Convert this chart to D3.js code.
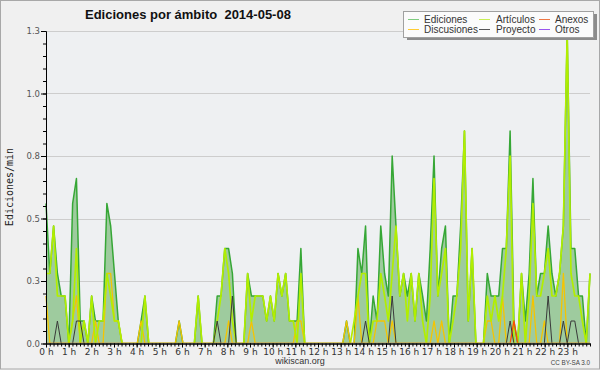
<!DOCTYPE html>
<html>
<head>
<meta charset="utf-8">
<script src="https://cdn.jsdelivr.net/npm/d3@7"></script>
<style>
  body { margin: 0; background: #f0f0f0; }
  svg { display: block; }
</style>
</head>
<body>
<div id="wrapper"></div>
<script>
// ediciones por minuto, una cifra cada 10 minutos (6 por hora)
const ediciones = [
  .56, .28, .47, .28, .19, .19,   0, .56, .66, .09, .09,   0,
  .19, .09, .09, .09, .56, .47, .28, .09,   0,   0,   0,   0,
    0, .09, .19,   0,   0,   0,   0,   0,   0,   0,   0, .09,
    0,   0,   0,   0, .19,   0,   0,   0,   0, .19, .19, .38,
  .38, .28,   0,   0,   0, .28, .19, .19, .19, .19, .09, .19,
  .09, .28, .19, .28, .09, .09, .09, .38,   0,   0,   0,   0,
    0,   0,   0,   0,   0,   0,   0, .09,   0,   0, .38, .28,
  .47,   0, .19, .09, .47, .28, .19, .75, .47, .19, .28, .19,
  .28, .09, .28, .19, .09, .38, .75, .19, .38, .47,   0, .19,
  .19, .47, .85, .09, .38,   0,   0,   0, .28, .19, .19, .19,
  .38, .38, .85, .09,   0, .28, .09, .28, .66, .19, .28, .28,
  .47, .28, .19, .28, .47, 1.24, .38, .38, .19, .19,  0, .28
]
const articulos = [
  .28, .28, .47, .19, .19, .19,   0, .09, .38,   0, .09,   0,
  .19,   0, .09, .09, .28, .19, .09, .09,   0,   0,   0,   0,
    0,   0, .19,   0,   0,   0,   0,   0,   0,   0,   0,   0,
    0,   0,   0,   0, .19,   0,   0,   0,   0, .09, .19, .38,
  .28, .09,   0,   0,   0, .28, .09, .19, .19, .19, .09, .19,
  .09, .28, .19, .28, .09, .09,   0, .28,   0,   0,   0,   0,
    0,   0,   0,   0,   0,   0,   0,   0,   0, .09, .19, .28,
  .28,   0, .09, .09, .28, .19, .09, .28, .47, .19, .28, .09,
  .28, .09, .28, .09,   0, .19, .66, .19, .28, .38,   0, .09,
  .19, .38, .85, .09, .38,   0,   0,   0, .19, .09, .19, .09,
  .19, .38, .75,   0,   0, .28,   0, .19, .56, .19, .19, .28,
  .38, .19, .19, .28, .47, 1.24, .28, .19, .19, .09,  0, .28
]
const discusiones = [
  .19,   0,   0,   0,   0,   0,   0, .09, .19,   0,   0,   0,
    0, .09,   0,   0, .28, .28, .09, .09,   0,   0,   0,   0,
    0, .09,   0,   0,   0,   0,   0,   0,   0,   0,   0, .09,
    0,   0,   0,   0,   0,   0,   0,   0,   0,   0,   0,   0,
  .09,   0,   0,   0,   0,   0, .09,   0,   0,   0,   0,   0,
    0,   0,   0,   0,   0,   0, .09, .09,   0,   0,   0,   0,
    0,   0,   0,   0,   0,   0,   0, .09,   0,   0, .19,   0,
    0,   0,   0, .09, .09, .09,   0, .09,   0,   0,   0,   0,
    0,   0,   0,   0,   0,   0, .09,   0, .09,   0,   0,   0,
    0,   0,   0,   0,   0,   0,   0,   0, .09, .09,   0,   0,
  .19,   0,   0,   0,   0,   0,   0,   0, .19,   0,   0, .09,
    0,   0,   0,   0, .28,   0,   0,   0,   0,   0,   0,   0
]
const proyecto = [
    0,   0,   0, .09,   0,   0,   0,   0, .09, .09,   0,   0,
    0,   0,   0,   0,   0,   0,   0,   0,   0,   0,   0,   0,
    0,   0,   0,   0,   0,   0,   0,   0,   0,   0,   0,   0,
    0,   0,   0,   0,   0,   0,   0,   0,   0, .09,   0,   0,
    0, .19,   0,   0,   0,   0,   0,   0,   0,   0,   0,   0,
    0,   0,   0,   0,   0,   0,   0,   0,   0,   0,   0,   0,
    0,   0,   0,   0,   0,   0,   0,   0,   0,   0,   0,   0,
  .09,   0,   0,   0,   0,   0,   0, .19,   0,   0,   0,   0,
    0,   0,   0,   0,   0,   0,   0,   0,   0,   0,   0,   0,
    0,   0,   0,   0,   0,   0,   0,   0,   0,   0,   0,   0,
    0,   0, .09,   0,   0,   0,   0,   0,   0,   0,   0,   0,
  .19,   0,   0,   0, .09,   0, .09, .09,   0,   0,   0,   0
]
const anexos = [
    0,   0,   0,   0,   0,   0,   0,   0,   0,   0,   0,   0,
    0,   0,   0,   0,   0,   0,   0,   0,   0,   0,   0,   0,
    0,   0,   0,   0,   0,   0,   0,   0,   0,   0,   0,   0,
    0,   0,   0,   0,   0,   0,   0,   0,   0,   0,   0,   0,
    0,   0,   0,   0,   0,   0,   0,   0,   0,   0,   0,   0,
    0,   0,   0,   0,   0,   0,   0,   0,   0,   0,   0,   0,
    0,   0,   0,   0,   0,   0,   0,   0,   0,   0,   0,   0,
    0,   0,   0,   0,   0,   0,   0,   0,   0,   0,   0,   0,
    0,   0,   0,   0,   0,   0,   0,   0,   0,   0,   0,   0,
    0,   0,   0,   0,   0,   0,   0,   0,   0,   0,   0,   0,
    0,   0,   0, .09,   0,   0,   0,   0,   0,   0,   0,   0,
    0,   0,   0,   0,   0,   0,   0,   0,   0,   0,   0,   0
]
const otros = [
    0,   0,   0,   0,   0,   0,   0,   0,   0,   0,   0,   0,
    0,   0,   0,   0,   0,   0,   0,   0,   0,   0,   0,   0,
    0,   0,   0,   0,   0,   0,   0,   0,   0,   0,   0,   0,
    0,   0,   0,   0,   0,   0,   0,   0,   0,   0,   0,   0,
    0,   0,   0,   0,   0,   0,   0,   0,   0,   0,   0,   0,
    0,   0,   0,   0,   0,   0,   0,   0,   0,   0,   0,   0,
    0,   0,   0,   0,   0,   0,   0,   0,   0,   0,   0,   0,
    0,   0,   0,   0,   0,   0,   0,   0,   0,   0,   0,   0,
    0,   0,   0,   0,   0,   0,   0,   0,   0,   0,   0,   0,
    0,   0,   0,   0,   0,   0,   0,   0,   0,   0,   0,   0,
    0,   0,   0,   0,   0,   0,   0,   0,   0,   0,   0,   0,
    0,   0,   0,   0,   0,   0,   0,   0,   0,   0,   0,   0
]

const chartTitle = 'Ediciones por ámbito  2014-05-08'
const hourTicks = [0, 1, 2, 3, 4, 5, 6, 7, 8, 9, 10, 11, 12, 13, 14, 15, 16, 17, 18, 19, 20, 21, 22, 23]
const hourLabels = ['0 h', '1 h', '2 h', '3 h', '4 h', '5 h', '6 h', '7 h', '8 h', '9 h', '10 h', '11 h',
  '12 h', '13 h', '14 h', '15 h', '16 h', '17 h', '18 h', '19 h', '20 h', '21 h', '22 h', '23 h']
const yTicks = [0, 0.25, 0.5, 0.75, 1, 1.25]
const yTickLabels = ['0.0', '0.3', '0.5', '0.8', '1.0', '1.3']

const legendLabels = ['Ediciones', 'Artículos', 'Anexos', 'Discusiones', 'Proyecto', 'Otros']
const legendColors = ['#7fcc7f', '#c8ee55', '#ee7744', '#ffcc33', '#555555', '#9955ee']

function drawChart() {
  //dimensions
  let dimensions = {
    width: 600,
    height: 370,
    margin: { top: 31, right: 10, bottom: 26.5, left: 46 }
  }
  dimensions.boundedWidth = dimensions.width - dimensions.margin.left - dimensions.margin.right
  dimensions.boundedHeight = dimensions.height - dimensions.margin.top - dimensions.margin.bottom

  const wrapper = d3.select('#wrapper')
    .append('svg')
      .attr('width', dimensions.width)
      .attr('height', dimensions.height)

  wrapper.append('rect')
    .attr('x', 0.5).attr('y', 0.5)
    .attr('width', dimensions.width - 1).attr('height', dimensions.height - 1.5)
    .attr('fill', '#f0f0f0')
    .attr('stroke', '#a8a8a8')

  const bounds = wrapper.append('g')
    .attr('transform', `translate(${dimensions.margin.left}, ${dimensions.margin.top})`)

  // lines sitting on zero hide under the axis
  wrapper.append('defs')
    .append('clipPath')
      .attr('id', 'plot-clip')
    .append('rect')
      .attr('x', -2).attr('y', -40)
      .attr('width', dimensions.boundedWidth + 4)
      .attr('height', dimensions.boundedHeight + 40 - 0.7)

  //scales
  const xScale = d3.scaleLinear()
    .domain([0, ediciones.length - 1])
    .range([0, dimensions.boundedWidth])
  const timeScale = d3.scaleLinear()
    .domain([0, 24])
    .range([0, dimensions.boundedWidth])
  const yScale = d3.scaleLinear()
    .domain([0, 1.25])
    .range([dimensions.boundedHeight, 0])

  bounds.append('rect')
    .attr('width', dimensions.boundedWidth)
    .attr('height', dimensions.boundedHeight)
    .attr('fill', '#eef0f2')

  //grid
  bounds.selectAll('.grid')
    .data(yTicks.slice(1))
    .join('line')
      .attr('class', 'grid')
      .attr('x1', 0).attr('x2', dimensions.boundedWidth)
      .attr('y1', d => Math.round(yScale(d)) + 0.5)
      .attr('y2', d => Math.round(yScale(d)) + 0.5)
      .attr('stroke', '#cdcdcd')

  //area + lines
  const areaGenerator = d3.area()
    .x((d, i) => xScale(i))
    .y0(yScale(0))
    .y1(d => yScale(d))
  bounds.append('path')
    .datum(ediciones)
    .attr('d', areaGenerator)
    .attr('fill', '#9ecb9e')

  const lineGenerator = d3.line()
    .x((d, i) => xScale(i))
    .y(d => yScale(d))

  const series = [
    { values: ediciones, color: '#36a736', width: 1.5 },
    { values: discusiones, color: '#f5c400', width: 1.3 },
    { values: otros, color: '#9955ee', width: 1 },
    { values: articulos, color: '#b2ee00', width: 1.7 },
    { values: anexos, color: '#ff4f00', width: 1.3 },
    { values: proyecto, color: '#3a3a3a', width: 1 }
  ]
  bounds.append('g')
    .attr('clip-path', 'url(#plot-clip)')
    .selectAll('.series')
    .data(series)
    .join('path')
      .attr('class', 'series')
      .attr('d', d => lineGenerator(d.values))
      .attr('fill', 'none')
      .attr('stroke', d => d.color)
      .attr('stroke-width', d => d.width)
      .attr('stroke-linejoin', 'round')

  //axes
  const yAxis = bounds.append('g')
    .call(d3.axisLeft(yScale)
      .tickValues(yTicks)
      .tickFormat((d, i) => yTickLabels[i])
      .tickSize(5)
      .tickSizeOuter(0)
      .tickPadding(1))
  yAxis.selectAll('text')
    .attr('font-family', 'DejaVu Sans')
    .attr('font-size', 8.5)
    .attr('fill', '#555')
  bounds.append('g')
    .call(d3.axisLeft(yScale)
      .tickValues(d3.range(0, 1.2501, 0.05))
      .tickFormat('')
      .tickSize(3)
      .tickSizeOuter(0))

  const xAxis = bounds.append('g')
    .attr('transform', `translate(0, ${dimensions.boundedHeight})`)
    .call(d3.axisBottom(timeScale)
      .tickValues(hourTicks)
      .tickFormat((d, i) => hourLabels[i])
      .tickSize(4)
      .tickSizeOuter(0)
      .tickPadding(1))
  xAxis.selectAll('text')
    .attr('font-family', 'DejaVu Sans')
    .attr('font-size', 9)
    .attr('fill', '#333')
  bounds.append('g')
    .attr('transform', `translate(0, ${dimensions.boundedHeight})`)
    .call(d3.axisBottom(timeScale)
      .tickValues(d3.range(0, 24.001, 1 / 6))
      .tickFormat('')
      .tickSize(3)
      .tickSizeOuter(0))

  //texts
  wrapper.append('text')
    .attr('x', 85)
    .attr('y', 18.5)
    .attr('font-family', 'Liberation Sans')
    .attr('font-weight', 'bold')
    .attr('font-size', 13)
    .attr('fill', '#111')
    .style('white-space', 'pre')
    .text(chartTitle)

  wrapper.append('text')
    .attr('transform', 'translate(13, 187) rotate(-90)')
    .attr('text-anchor', 'middle')
    .attr('font-family', 'DejaVu Sans Mono')
    .attr('font-size', 10)
    .attr('fill', '#222')
    .text('Ediciones/min')

  wrapper.append('text')
    .attr('x', 300)
    .attr('y', 363.5)
    .attr('text-anchor', 'middle')
    .attr('font-family', 'Liberation Sans')
    .attr('font-size', 9)
    .attr('fill', '#333')
    .text('wikiscan.org')

  wrapper.append('text')
    .attr('x', 590)
    .attr('y', 364.5)
    .attr('text-anchor', 'end')
    .attr('font-family', 'Liberation Sans')
    .attr('font-size', 6.3)
    .attr('fill', '#444')
    .text('CC BY-SA 3.0')

  //legend
  const legend = wrapper.append('g')
  legend.append('rect')
    .attr('x', 407).attr('y', 14)
    .attr('width', 190).attr('height', 26)
    .attr('fill', '#8c8c8c')
  legend.append('rect')
    .attr('x', 403.5).attr('y', 11.5)
    .attr('width', 190).attr('height', 26)
    .attr('fill', '#fbfbfb')
    .attr('stroke', '#a0a0a0')

  const colX = [408, 479, 539]
  const textX = [424, 496, 555]
  const rowY = [19, 29]
  const items = legend.selectAll('.item')
    .data(legendLabels)
    .join('g')
      .attr('class', 'item')
  items.append('line')
    .attr('x1', (d, i) => colX[i % 3])
    .attr('x2', (d, i) => colX[i % 3] + 11)
    .attr('y1', (d, i) => rowY[Math.floor(i / 3)] + 0.5)
    .attr('y2', (d, i) => rowY[Math.floor(i / 3)] + 0.5)
    .attr('stroke', (d, i) => legendColors[i])
    .attr('stroke-width', 1)
  items.append('text')
    .attr('x', (d, i) => textX[i % 3])
    .attr('y', (d, i) => rowY[Math.floor(i / 3)] + 3.5)
    .attr('font-family', 'Liberation Sans')
    .attr('font-size', 10)
    .attr('fill', '#333')
    .text(d => d)
}

drawChart()
</script>
</body>
</html>
